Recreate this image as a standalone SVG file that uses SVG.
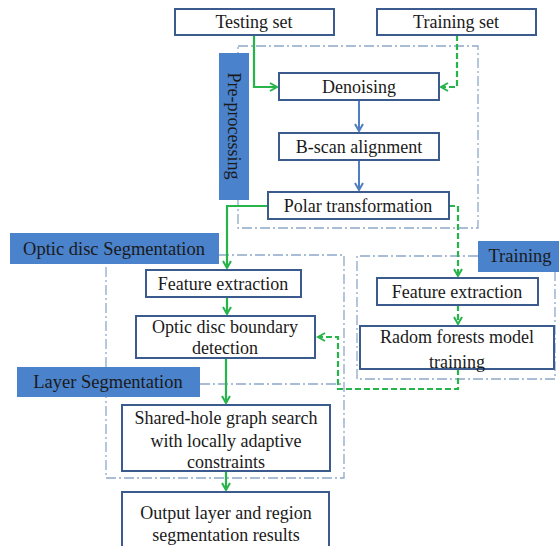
<svg xmlns="http://www.w3.org/2000/svg" width="559" height="546" viewBox="0 0 559 546">
<defs>
<style>
.box{fill:#fff;stroke:#3B5B8F;stroke-width:2}
.lbl{fill:#4A82CC}
.t{font-family:"Liberation Serif","Times New Roman",serif;font-size:18px;fill:#1a1a1a;text-anchor:middle}
.lt{font-family:"Liberation Serif","Times New Roman",serif;font-size:18.5px;fill:#1a1a1a;text-anchor:middle}
.grp{fill:none;stroke:#8FA8C9;stroke-width:1.3;stroke-dasharray:10,3,2,3}
.g{fill:none;stroke:#27B44A;stroke-width:2.2}
.gd{fill:none;stroke:#27B44A;stroke-width:2.2;stroke-dasharray:6,3}
.b{fill:none;stroke:#4F7FC0;stroke-width:2}
</style>
<marker id="ag" markerWidth="10" markerHeight="10" refX="8" refY="5" orient="auto" markerUnits="userSpaceOnUse"><path d="M1,1 L8,5 L1,9" fill="none" stroke="#27B44A" stroke-width="2"/></marker>
<marker id="ab" markerWidth="10" markerHeight="10" refX="8" refY="5" orient="auto" markerUnits="userSpaceOnUse"><path d="M1,1 L8,5 L1,9" fill="none" stroke="#4F7FC0" stroke-width="2"/></marker>
</defs>
<rect width="559" height="546" fill="#fff"/>
<g id="groups">
<rect class="grp" x="238" y="46" width="240" height="182"/>
<path class="grp" d="M219,255 H344 V478 H106 V397 M106,367 V264"/>
<path class="grp" d="M200,384 H344"/>
<path class="grp" d="M478,256 H357 V379 H555 V272"/>
</g>
<g id="label-preprocessing"><rect class="lbl" x="219" y="53" width="30" height="147"/><text class="t" transform="translate(228,126) rotate(90)">Pre-processing</text></g>
<g id="label-optic"><rect class="lbl" x="10" y="233" width="209" height="31"/><text class="lt" x="114" y="255">Optic disc Segmentation</text></g>
<g id="label-layer"><rect class="lbl" x="17" y="367" width="183" height="30"/><text class="lt" x="108" y="388">Layer Segmentation</text></g>
<g id="label-training"><rect class="lbl" x="478" y="241" width="81" height="31"/><text class="lt" x="520" y="262">Training</text></g>
<g id="connectors">
<path class="g" d="M254,35 V87 H277" marker-end="url(#ag)"/>
<path class="gd" d="M457,35 V87 H441" marker-end="url(#ag)"/>
<path class="b" d="M359,100 V131" marker-end="url(#ab)"/>
<path class="b" d="M359,160 V190" marker-end="url(#ab)"/>
<path class="g" d="M268,206 H227 V268" marker-end="url(#ag)"/>
<path class="gd" d="M449,206 H458 V276" marker-end="url(#ag)"/>
<path class="g" d="M227,297 V314" marker-end="url(#ag)"/>
<path class="gd" d="M458,305 V324" marker-end="url(#ag)"/>
<path class="gd" d="M458,369 V389 H338 V337 H318" marker-end="url(#ag)"/>
<path class="g" d="M226,358 V403" marker-end="url(#ag)"/>
<path class="g" d="M226,471 V490" marker-end="url(#ag)"/>
</g>
<g id="testing"><rect class="box" x="175" y="9" width="159" height="26"/><text class="t" x="254" y="28">Testing set</text></g>
<g id="training"><rect class="box" x="377" y="9" width="159" height="26"/><text class="t" x="456" y="28">Training set</text></g>
<g id="denoising"><rect class="box" x="279" y="73" width="160" height="27"/><text class="t" x="359" y="93">Denoising</text></g>
<g id="bscan"><rect class="box" x="279" y="133" width="160" height="27"/><text class="t" x="359" y="153">B-scan alignment</text></g>
<g id="polar"><rect class="box" x="268" y="192" width="181" height="27"/><text class="t" x="358" y="212">Polar transformation</text></g>
<g id="feat-left"><rect class="box" x="146" y="270" width="155" height="27"/><text class="t" x="223" y="290">Feature extraction</text></g>
<g id="optic-boundary"><rect class="box" x="136" y="316" width="179" height="42"/><text class="t" x="225" y="333">Optic disc boundary</text><text class="t" x="225" y="354">detection</text></g>
<g id="feat-right"><rect class="box" x="377" y="278" width="161" height="27"/><text class="t" x="457" y="298">Feature extraction</text></g>
<g id="forest"><rect class="box" x="360" y="326" width="194" height="43"/><text class="t" x="457" y="343">Radom forests model</text><text class="t" x="457" y="368">training</text></g>
<g id="sharedhole"><rect class="box" x="122" y="405" width="208" height="66"/><text class="t" x="226" y="424">Shared-hole graph search</text><text class="t" x="226" y="447">with locally adaptive</text><text class="t" x="226" y="468">constraints</text></g>
<g id="output"><rect class="box" x="122" y="492" width="207" height="56"/><text class="t" x="226" y="519">Output layer and region</text><text class="t" x="226" y="541">segmentation results</text></g>
</svg>
